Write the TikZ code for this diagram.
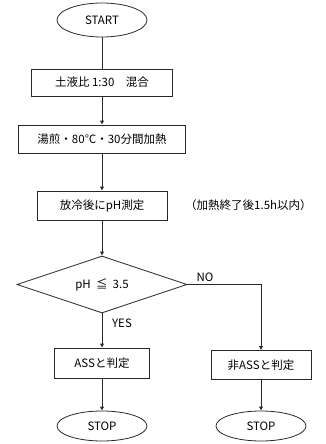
\documentclass[tikz,border=0pt]{standalone}
\usepackage{fontspec}
\setmainfont{Noto Sans CJK JP}
\usetikzlibrary{arrows.meta, positioning, shapes.geometric}
\definecolor{flowline}{RGB}{40, 40, 40}

\begin{document}
\begin{tikzpicture}[
    x=1pt, y=-1pt,
    font=\fontsize{11.5}{13}\selectfont,
    arrow/.style={-{Latex[length=4pt, width=4.5pt]}, line width=0.8pt, draw=flowline},
    line/.style={line width=0.8pt, draw=flowline},
    termbox/.style={ellipse, draw=flowline, line width=0.8pt,
        minimum width=90pt, inner sep=0pt, align=center},
    stepbox/.style={rectangle, draw=flowline, line width=0.8pt,
        minimum height=28pt, inner sep=0pt, align=center},
    decisionbox/.style={diamond, aspect=3, draw=flowline, line width=0.8pt,
        minimum width=170pt, minimum height=57pt, inner sep=0pt},
    branchlabel/.style={font=\fontsize{11.5}{13}\selectfont, inner sep=0pt}
]

% === Canvas ===
\useasboundingbox (0, 0) rectangle (326, 444);

% === Layout constants ===
\def\mainx{102}
\def\sidex{261}

% === Main column ===
\node[termbox, minimum height=34pt] (start) at (\mainx, 20) {START};
\node[stepbox, minimum width=141pt, minimum height=27pt] (mix) at (\mainx, 82.5)
    {土液比 1:30　混合};
\node[stepbox, minimum width=167pt] (heat) at (\mainx, 139)
    {湯煎・80℃・30分間加熱};
\node[stepbox, minimum width=130pt, minimum height=29pt] (ph) at (\mainx, 205.5)
    {放冷後にpH測定};
\node[anchor=west, inner sep=0pt] (note) at (185, 205)
    {（加熱終了後1.5h以内）};

% === Decision ===
\node[decisionbox] (judge) at (\mainx, 284.5) {pH\ \ ≦\ \ 3.5};

% === Results ===
\node[stepbox, minimum width=95pt, minimum height=30pt] (ass) at (\mainx, 363)
    {ASSと判定};
\node[stepbox, minimum width=100pt, minimum height=29pt] (nonass) at (\sidex, 365)
    {非ASSと判定};
\node[termbox, minimum height=30pt] (stop1) at (\mainx, 426) {STOP};
\node[termbox, minimum height=30pt] (stop2) at (\sidex, 426) {STOP};

% === Connectors ===
\draw[line] (start.south) -- (mix.north);
\draw[arrow] (mix.south) -- (heat.north);
\draw[arrow] (heat.south) -- (ph.north);
\draw[arrow] (ph.south) -- (judge.north);
\draw[arrow] (judge.south) -- (ass.north);
\draw[arrow] (judge.east) -| (nonass.north);
\draw[arrow] (ass.south) -- (stop1.north);
\draw[arrow] (nonass.south) -- (stop2.north);

% === Branch labels ===
\node[branchlabel] (yes) at (122, 323) {YES};
\node[branchlabel] (no) at (205, 277) {NO};

\end{tikzpicture}
\end{document}
